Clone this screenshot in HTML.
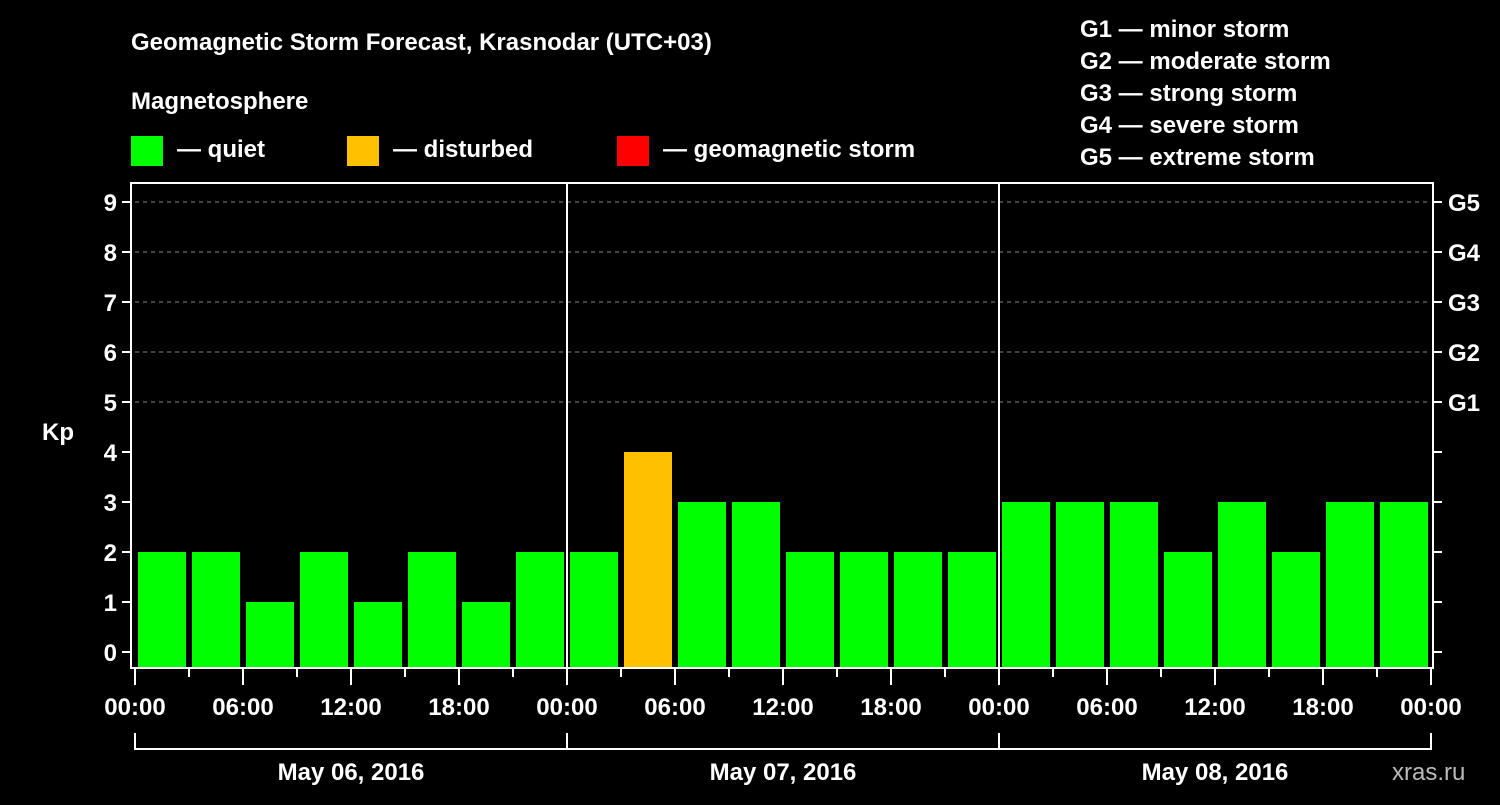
<!DOCTYPE html>
<html><head><meta charset="utf-8"><style>
body{margin:0;background:#000;}
svg text{font-family:"Liberation Sans",sans-serif;font-weight:bold;fill:#fff;}
</style></head><body>
<svg id="c" width="1500" height="800">
<text x="131" y="50" font-size="24">Geomagnetic Storm Forecast, Krasnodar (UTC+03)</text>
<text x="131" y="109" font-size="24">Magnetosphere</text>
<rect x="131" y="136" width="32" height="30" fill="#00ff00"/>
<text x="177" y="157" font-size="24">— quiet</text>
<rect x="347" y="136" width="32" height="30" fill="#ffc000"/>
<text x="393" y="157" font-size="24">— disturbed</text>
<rect x="617" y="136" width="32" height="30" fill="#ff0000"/>
<text x="663" y="157" font-size="24">— geomagnetic storm</text>
<g font-size="24">
<text x="1080" y="37">G1 — minor storm</text>
<text x="1080" y="69">G2 — moderate storm</text>
<text x="1080" y="101">G3 — strong storm</text>
<text x="1080" y="133">G4 — severe storm</text>
<text x="1080" y="165">G5 — extreme storm</text>
</g>
<text x="42" y="440" font-size="24">Kp</text>
<text x="1392" y="780" font-size="24" fill="#ccc" style="font-weight:normal;fill:#bbb">xras.ru</text>
<g id="plot"></g>
</svg>
<script>
const kpValues=[2,2,1,2,1,2,1,2, 2,4,3,3,2,2,2,2, 3,3,3,2,3,2,3,3];
const dayLabels=["May 06, 2016","May 07, 2016","May 08, 2016"];
const hourLabels=["00:00","06:00","12:00","18:00"];
const gLabels=["G1","G2","G3","G4","G5"];
const NS="http://www.w3.org/2000/svg";
const g=document.getElementById('plot');
const X0=135,SLOT=54,Y0=652,UNIT=50,TOP=183,BOT=668,L=131,R=1433;
const xs=i=>X0+SLOT*i, ys=v=>Y0-UNIT*v;
function mk(t,a,p){const e=document.createElementNS(NS,t);for(const k in a)e.setAttribute(k,a[k]);(p||g).appendChild(e);return e;}
// grid
for(let v=5;v<=9;v++){const e=mk('line',{x1:X0,x2:1430,y1:ys(v),y2:ys(v),stroke:'#888','stroke-dasharray':'4,4','stroke-width':1});

}
// bars
kpValues.forEach((v,i)=>{const c=v>=5?'#ff0000':(v>=4?'#ffc000':'#00ff00');
const e=mk('rect',{x:xs(i)+3,y:ys(v),width:48,height:BOT-1-ys(v),fill:c});

});
// frame
mk('rect',{x:L,y:TOP,width:R-L,height:BOT-TOP,fill:'none',stroke:'#fff','stroke-width':2});
// day dividers
for(let d=1;d<dayLabels.length;d++){const e=mk('line',{x1:xs(8*d),x2:xs(8*d),y1:TOP,y2:BOT,stroke:'#fff','stroke-width':2});

}
// y ticks
for(let v=0;v<=9;v++){mk('line',{x1:L-9,x2:L,y1:ys(v),y2:ys(v),stroke:'#fff','stroke-width':2});
mk('line',{x1:R,x2:R+9,y1:ys(v),y2:ys(v),stroke:'#fff','stroke-width':2});
const t=mk('text',{x:L-14,y:ys(v)+9,'font-size':24,'text-anchor':'end'});t.textContent=v;

}
gLabels.forEach((s,i)=>{const t=mk('text',{x:1448,y:ys(5+i)+9,'font-size':24});t.textContent=s;

});
// x ticks
for(let i=0;i<=kpValues.length;i++){const major=i%2==0;
mk('line',{x1:xs(i),x2:xs(i),y1:BOT,y2:BOT+(major?17:9),stroke:'#fff','stroke-width':2});
if(major){const t=mk('text',{x:xs(i),y:715,'font-size':24,'text-anchor':'middle'});t.textContent=hourLabels[(i/2)%4];

}}
// day brackets
mk('line',{x1:xs(0),x2:xs(kpValues.length),y1:749,y2:749,stroke:'#fff','stroke-width':2});
for(let d=0;d<=dayLabels.length;d++)mk('line',{x1:xs(8*d),x2:xs(8*d),y1:733,y2:750,stroke:'#fff','stroke-width':2});
dayLabels.forEach((s,d)=>{const t=mk('text',{x:xs(8*d+4),y:780,'font-size':24,'text-anchor':'middle'});t.textContent=s;

});
</script>
</body></html>
